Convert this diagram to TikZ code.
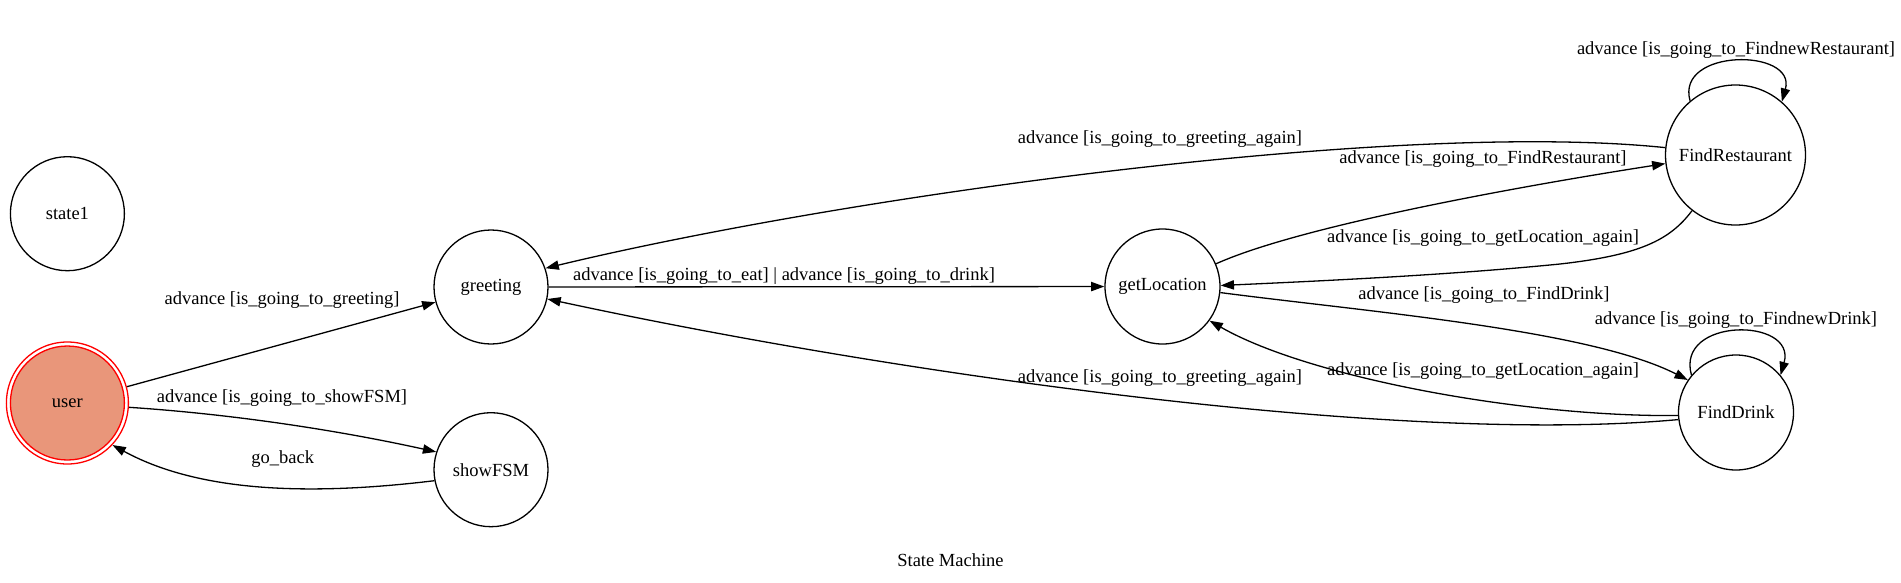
\documentclass[tikz,border=0pt]{standalone}
\usepackage{fontspec}
\setmainfont{Liberation Serif}
\usetikzlibrary{arrows.meta}
\definecolor{usersalmon}{RGB}{233,150,122}
\newcommand{\gvfont}{\fontsize{18.5}{22}\selectfont}
\tikzset{
  gvstate/.style={circle, draw, line width=1.3pt, inner sep=0pt, minimum size=#1, font=\gvfont},
  gvstate/.default=114pt,
  gvedge/.style={line width=1.3pt, -{Triangle[length=13.3pt,width=9.3pt]}},
  gvlabel/.style={font=\gvfont, inner sep=0pt}
}
\begin{document}
\begin{tikzpicture}[x=1pt,y=-1pt]
\useasboundingbox[fill=white] (0,0) rectangle (1901,582);

% states
\node[gvstate] (state1) at (67.4,213.7) {state1};
\node[gvstate=122pt, draw=red] (user) at (67.4,403) {};
\node[gvstate, draw=red, fill=usersalmon] (userin) at (user) {user};
\node[gvstate] (greeting) at (491,287) {greeting};
\node[gvstate] (showFSM) at (491,469.7) {showFSM};
\node[gvstate=115pt] (getLocation) at (1162.5,286.5) {getLocation};
\node[gvstate=140pt] (FindRestaurant) at (1735.5,155) {FindRestaurant};
\node[gvstate=115pt] (FindDrink) at (1736,412.5) {FindDrink};

% edges
\draw[gvedge] (user) -- (greeting);
\node[gvlabel] (l1) at (282,300) {advance [is\_going\_to\_greeting]};

\draw[gvedge] (user.-4) .. controls (231,414) and (337,430) .. (showFSM.162);
\node[gvlabel] (l2) at (282,398.3) {advance [is\_going\_to\_showFSM]};

\draw[gvedge] (showFSM.191) .. controls (300,497) and (195,490) .. (user.-43);
\node[gvlabel] (l3) at (282.8,459.3) {go\_back};

\draw[gvedge] (greeting) -- (getLocation);
\node[gvlabel] (l4) at (784,276) {advance [is\_going\_to\_eat] | advance [is\_going\_to\_drink]};

\draw[gvedge] (FindRestaurant.174) .. controls (1400,120) and (850,195) .. (greeting.19);
\node[gvlabel] (l5) at (1160,139.3) {advance [is\_going\_to\_greeting\_again]};

\draw[gvedge] (getLocation.23) .. controls (1300,226) and (1518.8,186.4) .. (FindRestaurant.187);
\node[gvlabel] (l6) at (1483,159.3) {advance [is\_going\_to\_FindRestaurant]};

\draw[gvedge] (FindRestaurant.232) .. controls (1670,240) and (1640,255) .. (1560,264)
   .. controls (1450,275) and (1320,281) .. (getLocation.1);
\node[gvlabel] (l7) at (1483,238.3) {advance [is\_going\_to\_getLocation\_again]};

\draw[gvedge] (getLocation.-6) .. controls (1368.5,311.9) and (1589.7,329.8) .. (FindDrink.146);
\node[gvlabel] (l8) at (1484,295) {advance [is\_going\_to\_FindDrink]};

\draw[gvedge] (FindDrink.183) .. controls (1520,417) and (1307,376.7) .. (getLocation.-36);
\node[gvlabel] (l9) at (1483,370.7) {advance [is\_going\_to\_getLocation\_again]};

\draw[gvedge] (FindDrink.187) .. controls (1400,445) and (900,375) .. (greeting.-12);
\node[gvlabel] (l10) at (1160,378.3) {advance [is\_going\_to\_greeting\_again]};

\draw[gvedge] (FindRestaurant.130) .. controls (1675,48) and (1797,48) .. (FindRestaurant.49);
\node[gvlabel] (l11) at (1736,50) {advance [is\_going\_to\_FindnewRestaurant]};

\draw[gvedge] (FindDrink.140) .. controls (1675,317) and (1797,317) .. (FindDrink.40);
\node[gvlabel] (l12) at (1736,320) {advance [is\_going\_to\_FindnewDrink]};

% title
\node[gvlabel] (title) at (950.5,560) {State Machine};
\end{tikzpicture}
\end{document}
